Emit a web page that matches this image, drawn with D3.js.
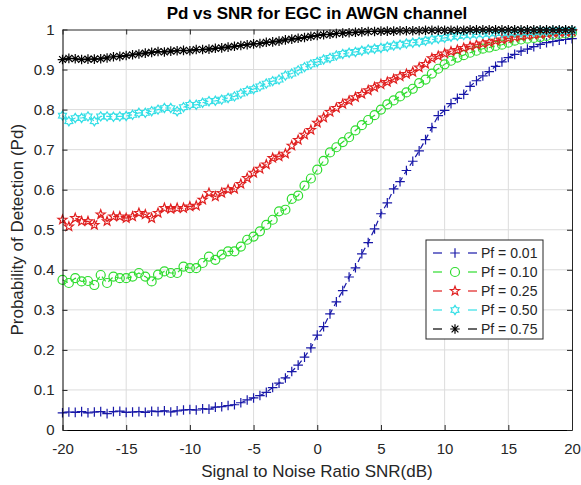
<!doctype html>
<html lang="en">
<head>
<meta charset="utf-8">
<script src="https://cdn.jsdelivr.net/npm/d3@7/dist/d3.min.js"></script>
<style>
    body { margin: 0; background: #fff; }
    svg text { font-family: "Liberation Sans", Arial, sans-serif; }
</style>
</head>
<body>
<div id="chart"></div>
<script>
    // data (0.5 dB steps)
    var snr = [-20,-19.5,-19,-18.5,-18,-17.5,-17,-16.5,-16,-15.5,-15,-14.5,-14,-13.5,-13,-12.5,-12,-11.5,-11,-10.5,
               -10,-9.5,-9,-8.5,-8,-7.5,-7,-6.5,-6,-5.5,-5,-4.5,-4,-3.5,-3,-2.5,-2,-1.5,-1,-0.5,
               0,0.5,1,1.5,2,2.5,3,3.5,4,4.5,5,5.5,6,6.5,7,7.5,8,8.5,9,9.5,
               10,10.5,11,11.5,12,12.5,13,13.5,14,14.5,15,15.5,16,16.5,17,17.5,18,18.5,19,19.5,20];

    var pf001 = [0.043,0.045,0.044,0.046,0.043,0.045,0.046,0.041,0.046,0.047,0.044,0.045,0.046,0.044,0.047,0.046,0.048,0.045,0.048,0.050,
                 0.051,0.050,0.053,0.052,0.057,0.058,0.061,0.063,0.068,0.075,0.080,0.086,0.094,0.106,0.117,0.130,0.146,0.162,0.182,0.205,
                 0.237,0.258,0.290,0.320,0.348,0.382,0.405,0.440,0.468,0.502,0.540,0.567,0.602,0.620,0.648,0.671,0.697,0.725,0.755,0.785,
                 0.798,0.815,0.828,0.838,0.858,0.872,0.884,0.895,0.908,0.919,0.930,0.938,0.946,0.951,0.957,0.963,0.967,0.970,0.973,0.975,0.977];

    var pf010 = [0.375,0.367,0.379,0.371,0.372,0.362,0.387,0.367,0.383,0.379,0.379,0.383,0.392,0.383,0.371,0.388,0.396,0.392,0.392,0.408,
                 0.404,0.404,0.417,0.433,0.425,0.438,0.446,0.446,0.458,0.475,0.483,0.496,0.512,0.525,0.546,0.550,0.577,0.585,0.610,0.628,
                 0.650,0.672,0.693,0.706,0.719,0.731,0.748,0.761,0.774,0.786,0.800,0.813,0.823,0.833,0.843,0.852,0.866,0.875,0.890,0.902,
                 0.913,0.922,0.930,0.936,0.942,0.947,0.952,0.955,0.959,0.962,0.967,0.972,0.975,0.977,0.979,0.981,0.984,0.987,0.989,0.990,0.992];

    var pf025 = [0.525,0.508,0.529,0.521,0.521,0.512,0.538,0.521,0.533,0.533,0.529,0.533,0.542,0.538,0.529,0.542,0.554,0.552,0.554,0.554,
                 0.558,0.560,0.575,0.592,0.583,0.592,0.600,0.602,0.614,0.629,0.642,0.652,0.663,0.679,0.683,0.690,0.710,0.724,0.737,0.749,
                 0.767,0.780,0.794,0.804,0.814,0.822,0.831,0.839,0.848,0.856,0.863,0.869,0.876,0.883,0.889,0.894,0.905,0.914,0.928,0.934,
                 0.940,0.945,0.949,0.954,0.958,0.962,0.965,0.968,0.972,0.975,0.978,0.981,0.983,0.985,0.987,0.989,0.990,0.992,0.993,0.994,0.995];

    var pf050 = [0.785,0.771,0.779,0.779,0.783,0.771,0.783,0.783,0.782,0.783,0.784,0.787,0.792,0.792,0.796,0.800,0.804,0.804,0.796,0.806,
                 0.812,0.812,0.817,0.821,0.822,0.825,0.829,0.833,0.840,0.847,0.851,0.858,0.865,0.871,0.875,0.885,0.890,0.898,0.906,0.913,
                 0.919,0.925,0.929,0.935,0.939,0.942,0.944,0.947,0.950,0.952,0.954,0.957,0.960,0.962,0.965,0.967,0.969,0.972,0.975,0.977,
                 0.979,0.982,0.984,0.986,0.987,0.988,0.989,0.990,0.991,0.991,0.992,0.993,0.993,0.994,0.994,0.995,0.995,0.996,0.996,0.996,0.997];

    var pf075 = [0.925,0.928,0.927,0.925,0.926,0.926,0.927,0.929,0.932,0.933,0.935,0.937,0.939,0.941,0.943,0.945,0.944,0.946,0.947,0.948,
                 0.947,0.950,0.950,0.951,0.953,0.954,0.956,0.958,0.960,0.962,0.964,0.965,0.968,0.969,0.971,0.974,0.976,0.978,0.980,0.983,
                 0.985,0.987,0.988,0.990,0.991,0.992,0.993,0.994,0.995,0.995,0.996,0.996,0.996,0.997,0.997,0.997,0.997,0.998,0.998,0.998,
                 0.998,0.998,0.998,0.998,0.999,0.999,0.999,0.999,0.999,0.999,0.999,0.999,0.999,0.999,0.999,0.999,0.999,0.999,0.999,0.999,0.999];

    var seriesNames = ["Pf = 0.01", "Pf = 0.10", "Pf = 0.25", "Pf = 0.50", "Pf = 0.75"];
    var seriesValues = [pf001, pf010, pf025, pf050, pf075];
    var seriesColors = ["#1818a8", "#2fdc2f", "#e01f1f", "#35dfe6", "#000000"];
    var seriesMarkers = ["plus", "circle", "pentagram", "hexagram", "asterisk"];

    var xTicks = [-20, -15, -10, -5, 0, 5, 10, 15, 20];
    var yTicks = [0, 0.1, 0.2, 0.3, 0.4, 0.5, 0.6, 0.7, 0.8, 0.9, 1];

    // canvas
    var W = 581, H = 485;
    var margin = {top: 29.5, right: 9, bottom: 55, left: 62.5};
    var width = W - margin.left - margin.right,
        height = H - margin.top - margin.bottom;

    var x = d3.scaleLinear().domain([-20, 20]).range([0, width]);
    var y = d3.scaleLinear().domain([0, 1]).range([height, 0]);

    // marker shapes
    function starPath(n, r, ri) {
        var pts = [];
        for (var i = 0; i < 2 * n; i++) {
            var a = -Math.PI / 2 + i * Math.PI / n;
            var rr = (i % 2 == 0) ? r : ri;
            pts.push([rr * Math.cos(a), rr * Math.sin(a)]);
        }
        return "M" + pts.map(function(p) { return p[0].toFixed(2) + "," + p[1].toFixed(2); }).join("L") + "Z";
    }
    function markerPath(kind) {
        var s = 4.8, d = 3.4;
        if (kind == "plus") return "M" + (-s) + ",0H" + s + "M0," + (-s) + "V" + s;
        if (kind == "asterisk") return "M" + (-s) + ",0H" + s + "M0," + (-s) + "V" + s +
            "M" + (-d) + "," + (-d) + "L" + d + "," + d + "M" + (-d) + "," + d + "L" + d + "," + (-d);
        if (kind == "circle") return d3.arc()({innerRadius: 0, outerRadius: 4.5, startAngle: 0, endAngle: 2 * Math.PI});
        if (kind == "pentagram") return starPath(5, 4.8, 2.0);
        if (kind == "hexagram") return starPath(6, 4.6, 2.8);
    }

    var svg = d3.select("#chart").append("svg")
        .attr("width", W)
        .attr("height", H);

    var g = svg.append("g")
        .attr("transform", "translate(" + margin.left + "," + margin.top + ")");

    // grid
    g.append("g").selectAll("line").data(xTicks.slice(1, -1)).enter().append("line")
        .attr("x1", function(d) { return x(d); }).attr("x2", function(d) { return x(d); })
        .attr("y1", 0).attr("y2", height)
        .attr("stroke", "#dcdcdc").attr("stroke-width", 1);
    g.append("g").selectAll("line").data(yTicks.slice(1, -1)).enter().append("line")
        .attr("y1", function(d) { return y(d); }).attr("y2", function(d) { return y(d); })
        .attr("x1", 0).attr("x2", width)
        .attr("stroke", "#dcdcdc").attr("stroke-width", 1);

    // series
    var line = d3.line()
        .x(function(d) { return x(d[0]); })
        .y(function(d) { return y(d[1]); });

    seriesValues.forEach(function(vals, i) {
        var data = snr.map(function(s, k) { return [s, vals[k]]; });
        g.append("path")
            .attr("fill", "none")
            .attr("stroke", seriesColors[i])
            .attr("stroke-width", 1.2)
            .attr("stroke-dasharray", "6,4")
            .attr("d", line(data));
        g.append("g").selectAll("path").data(data).enter().append("path")
            .attr("transform", function(d) { return "translate(" + x(d[0]) + "," + y(d[1]) + ")"; })
            .attr("d", markerPath(seriesMarkers[i]))
            .attr("fill", "none")
            .attr("stroke", seriesColors[i])
            .attr("stroke-width", 1.2);
    });

    // axes (MATLAB style, ticks inside, box)
    var fmt = function(d) { return String(d); };
    var xAxis = d3.axisBottom(x).tickValues(xTicks).tickFormat(fmt).tickSizeInner(-5).tickSizeOuter(0).tickPadding(13);
    var yAxis = d3.axisLeft(y).tickValues(yTicks).tickFormat(fmt).tickSizeInner(-5).tickSizeOuter(0).tickPadding(8);
    var xTop = d3.axisTop(x).tickValues(xTicks).tickFormat("").tickSizeInner(-5).tickSizeOuter(0);
    var yRight = d3.axisRight(y).tickValues(yTicks).tickFormat("").tickSizeInner(-5).tickSizeOuter(0);

    var ax = g.append("g").attr("transform", "translate(0," + height + ")").call(xAxis);
    var ay = g.append("g").call(yAxis);
    var at = g.append("g").call(xTop);
    var ar = g.append("g").attr("transform", "translate(" + width + ",0)").call(yRight);

    [ax, ay, at, ar].forEach(function(a) {
        a.selectAll("path").attr("stroke", "#262626").attr("stroke-width", 1);
        a.selectAll("line").attr("stroke", "#262626");
        a.selectAll("text").attr("fill", "#262626").style("font-size", "15px");
    });
    ax.select(".domain").attr("stroke", "#000");
    ay.select(".domain").attr("stroke", "#000");

    // title and labels
    svg.append("text")
        .attr("x", 317)
        .attr("y", 19)
        .attr("text-anchor", "middle")
        .style("font-size", "17px")
        .style("font-weight", "bold")
        .attr("fill", "#000")
        .text("Pd vs SNR for EGC in AWGN channel");

    svg.append("text")
        .attr("x", 317)
        .attr("y", 477)
        .attr("text-anchor", "middle")
        .style("font-size", "17px")
        .attr("fill", "#262626")
        .text("Signal to Noise Ratio SNR(dB)");

    svg.append("text")
        .attr("transform", "translate(23," + (margin.top + height / 2) + ") rotate(-90)")
        .attr("text-anchor", "middle")
        .style("font-size", "17px")
        .attr("fill", "#262626")
        .text("Probability of Detection (Pd)");

    // legend
    var legend = svg.append("g").attr("transform", "translate(426,240)");
    legend.append("rect")
        .attr("width", 117).attr("height", 99)
        .attr("fill", "#fff")
        .attr("stroke", "#262626").attr("stroke-width", 1);

    seriesNames.forEach(function(name, i) {
        var row = legend.append("g").attr("transform", "translate(0," + (13 + i * 19) + ")");
        row.append("line").attr("x1", 7).attr("x2", 16).attr("y1", 0).attr("y2", 0)
            .attr("stroke", seriesColors[i]).attr("stroke-width", 1.2);
        row.append("line").attr("x1", 42).attr("x2", 51).attr("y1", 0).attr("y2", 0)
            .attr("stroke", seriesColors[i]).attr("stroke-width", 1.2);
        row.append("path")
            .attr("transform", "translate(29,0)")
            .attr("d", markerPath(seriesMarkers[i]))
            .attr("fill", "none")
            .attr("stroke", seriesColors[i])
            .attr("stroke-width", 1.2);
        row.append("text")
            .attr("x", 55).attr("y", 5)
            .style("font-size", "14px")
            .attr("fill", "#262626")
            .text(name);
    });
</script>
</body>
</html>
